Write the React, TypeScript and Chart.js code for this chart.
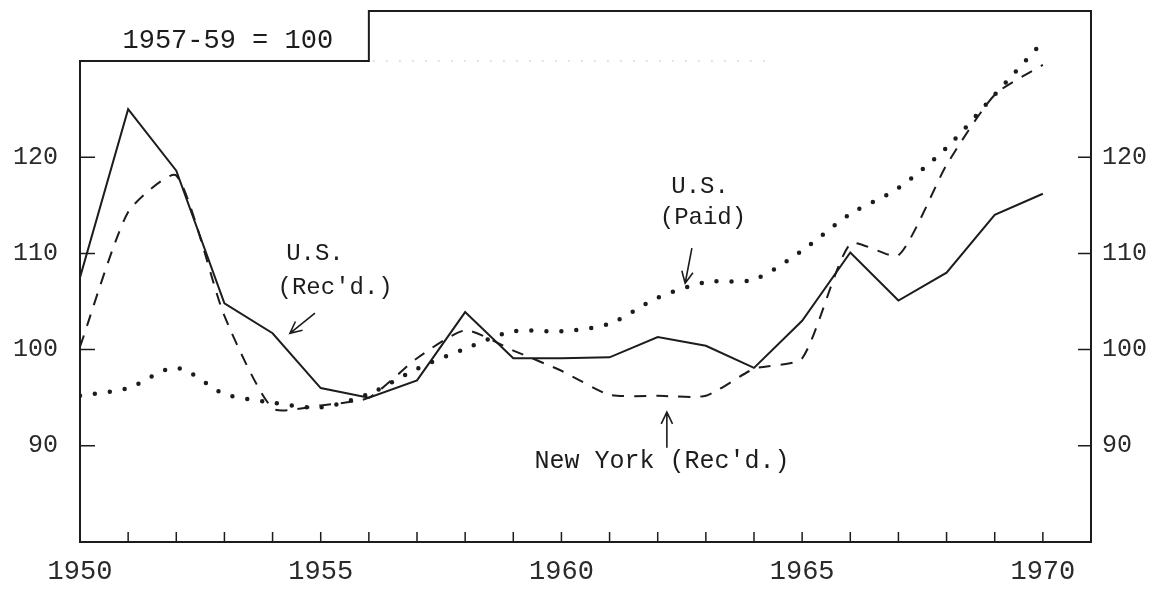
import React, { useEffect, useRef } from "react";
import { Chart, registerables } from "chart.js";

Chart.register(...registerables);

// ---- data ----
const years = [1950, 1951, 1952, 1953, 1954, 1955, 1956, 1957, 1958, 1959, 1960, 1961, 1962, 1963, 1964, 1965, 1966, 1967, 1968, 1969, 1970];
const usReceived = [107.5, 125.0, 118.6, 104.8, 101.7, 96.0, 95.0, 96.8, 103.9, 99.1, 99.1, 99.2, 101.3, 100.4, 98.1, 103.0, 110.1, 105.1, 108.0, 114.0, 116.2];
const nyReceived = [100.3, 114.3, 118.1, 103.5, 93.9, 94.2, 95.0, 99.1, 102.0, 99.9, 97.8, 95.3, 95.2, 95.2, 98.0, 99.1, 111.0, 109.8, 119.2, 126.5, 129.6];
const usPaid = [95.2, 96.0, 98.1, 95.4, 94.5, 94.0, 95.4, 98.0, 100.1, 101.9, 101.9, 102.7, 105.4, 107.0, 107.3, 110.3, 114.1, 116.8, 121.0, 126.5, 132.0];

const xLabelYears = [1950, 1955, 1960, 1965, 1970];
const xTickYears = [1951, 1952, 1953, 1954, 1955, 1956, 1957, 1958, 1959, 1960, 1961, 1962, 1963, 1964, 1965, 1966, 1967, 1968, 1969, 1970];
const yTickValues = [90, 100, 110, 120];

const baseNote = "1957-59 = 100";
const usRecLines = ["U.S.", "(Rec'd.)"];
const usPaidLines = ["U.S.", "(Paid)"];
const nyLine = "New York (Rec'd.)";

const INK = "#1c1c1c";
const MONO = '"Liberation Mono", "DejaVu Sans Mono", monospace';

const toPoints = (vals: number[]) => years.map((yr, i) => ({ x: yr, y: vals[i] }));

function arrow(ctx: CanvasRenderingContext2D, x1: number, y1: number, x2: number, y2: number) {
  ctx.beginPath();
  ctx.moveTo(x1, y1);
  ctx.lineTo(x2, y2);
  const ang = Math.atan2(y2 - y1, x2 - x1);
  const L = 13;
  const spread = 0.45;
  ctx.moveTo(x2 - L * Math.cos(ang - spread), y2 - L * Math.sin(ang - spread));
  ctx.lineTo(x2, y2);
  ctx.lineTo(x2 - L * Math.cos(ang + spread), y2 - L * Math.sin(ang + spread));
  ctx.stroke();
}

const decor = {
  id: "decor",
  afterDraw(chart: any) {
    const { ctx, chartArea: a, scales } = chart;
    const xs = scales.x;
    const ys = scales.y;
    const X = (v: number) => xs.getPixelForValue(v);
    const Y = (v: number) => ys.getPixelForValue(v);
    ctx.save();
    ctx.strokeStyle = INK;
    ctx.fillStyle = INK;
    ctx.lineWidth = 2;
    ctx.lineJoin = "miter";

    // stepped frame
    const stepX = X(1956);
    const stepY = Y(130);
    ctx.beginPath();
    ctx.moveTo(a.left, a.bottom);
    ctx.lineTo(a.left, stepY);
    ctx.lineTo(stepX, stepY);
    ctx.lineTo(stepX, a.top);
    ctx.lineTo(a.right, a.top);
    ctx.lineTo(a.right, a.bottom);
    ctx.closePath();
    ctx.stroke();

    // faint remnant of the old top line
    ctx.save();
    ctx.strokeStyle = "#c8c8c8";
    ctx.lineWidth = 1;
    ctx.setLineDash([2, 11]);
    ctx.beginPath();
    ctx.moveTo(stepX + 4, stepY);
    ctx.lineTo(X(1964.3), stepY);
    ctx.stroke();
    ctx.restore();

    // inward tick marks
    ctx.lineWidth = 1.5;
    ctx.beginPath();
    yTickValues.forEach((v) => {
      const py = Y(v);
      ctx.moveTo(a.left, py);
      ctx.lineTo(a.left + 15, py);
      ctx.moveTo(a.right, py);
      ctx.lineTo(a.right - 13, py);
    });
    xTickYears.forEach((yr) => {
      const px = X(yr);
      ctx.moveTo(px, a.bottom);
      ctx.lineTo(px, a.bottom - 10);
    });
    ctx.stroke();

    // base note
    ctx.textAlign = "center";
    ctx.textBaseline = "middle";
    ctx.font = `27px ${MONO}`;
    ctx.fillText(baseNote, X(1953.07), Y(132.1));

    // annotations
    ctx.font = `24px ${MONO}`;
    ctx.fillText(usRecLines[0], X(1954.88), Y(110.0));
    ctx.fillText(usRecLines[1], X(1955.3), Y(106.4));
    ctx.fillText(usPaidLines[0], X(1962.88), Y(116.9));
    ctx.fillText(usPaidLines[1], X(1962.94), Y(113.7));
    ctx.font = `25px ${MONO}`;
    ctx.fillText(nyLine, X(1962.09), Y(88.4));

    ctx.lineWidth = 1.6;
    arrow(ctx, X(1954.88), Y(103.8), X(1954.36), Y(101.7));
    arrow(ctx, X(1962.71), Y(110.55), X(1962.57), Y(106.9));
    arrow(ctx, X(1962.19), Y(89.8), X(1962.19), Y(93.5));

    ctx.restore();
  },
};

export default function App() {
  const ref = useRef<HTMLCanvasElement | null>(null);

  useEffect(() => {
    if (!ref.current) return;
    const tickFont = { family: MONO, size: 25 };
    const chart = new Chart(ref.current, {
      type: "line",
      data: {
        datasets: [
          {
            label: "U.S. (Rec'd.)",
            data: toPoints(usReceived),
            borderColor: INK,
            borderWidth: 2,
            pointRadius: 0,
            tension: 0,
            yAxisID: "y",
          },
          {
            label: "New York (Rec'd.)",
            data: toPoints(nyReceived),
            borderColor: INK,
            borderWidth: 2,
            borderDash: [12, 10],
            pointRadius: 0,
            tension: 0.2,
            yAxisID: "y",
          },
          {
            label: "U.S. (Paid)",
            data: toPoints(usPaid),
            borderColor: INK,
            borderWidth: 4.5,
            borderDash: [0, 15],
            borderCapStyle: "round",
            pointRadius: 0,
            tension: 0.3,
            yAxisID: "y",
          },
        ],
      },
      options: {
        animation: false,
        responsive: false,
        devicePixelRatio: 1,
        layout: { padding: { top: 11, left: 0, right: 0, bottom: 0 } },
        plugins: { legend: { display: false }, tooltip: { enabled: false } },
        scales: {
          x: {
            type: "linear",
            position: "bottom",
            min: 1950,
            max: 1971,
            grid: { display: false, drawTicks: false },
            border: { display: false },
            afterBuildTicks: (s: any) => {
              s.ticks = xLabelYears.map((v) => ({ value: v }));
            },
            afterFit: (s: any) => {
              s.height = 49;
              s.paddingLeft = 0;
              s.paddingRight = 0;
            },
            ticks: {
              autoSkip: false,
              maxRotation: 0,
              padding: 14,
              color: "#2a2a2a",
              font: { family: MONO, size: 27 },
              callback: (v: any) => String(v),
            },
          },
          y: {
            type: "linear",
            position: "left",
            min: 80,
            max: 135.2,
            grid: { display: false, drawTicks: false },
            border: { display: false },
            afterBuildTicks: (s: any) => {
              s.ticks = yTickValues.map((v) => ({ value: v }));
            },
            afterFit: (s: any) => {
              s.width = 80;
              s.paddingTop = 0;
              s.paddingBottom = 0;
            },
            ticks: {
              autoSkip: false,
              padding: 22,
              color: "#2a2a2a",
              font: tickFont,
              callback: (v: any) => String(v),
            },
          },
          y2: {
            type: "linear",
            position: "right",
            min: 80,
            max: 135.2,
            grid: { display: false, drawTicks: false },
            border: { display: false },
            afterBuildTicks: (s: any) => {
              s.ticks = yTickValues.map((v) => ({ value: v }));
            },
            afterFit: (s: any) => {
              s.width = 69;
              s.paddingTop = 0;
              s.paddingBottom = 0;
            },
            ticks: {
              autoSkip: false,
              padding: 11,
              color: "#2a2a2a",
              font: tickFont,
              callback: (v: any) => String(v),
            },
          },
        },
      },
      plugins: [decor],
    } as any);
    return () => chart.destroy();
  }, []);

  return (
    <div style={{ position: "fixed", left: 0, top: 0, width: 1160, height: 591, background: "#ffffff" }}>
      <canvas ref={ref} width={1160} height={591} style={{ display: "block", width: 1160, height: 591 }} />
    </div>
  );
}
